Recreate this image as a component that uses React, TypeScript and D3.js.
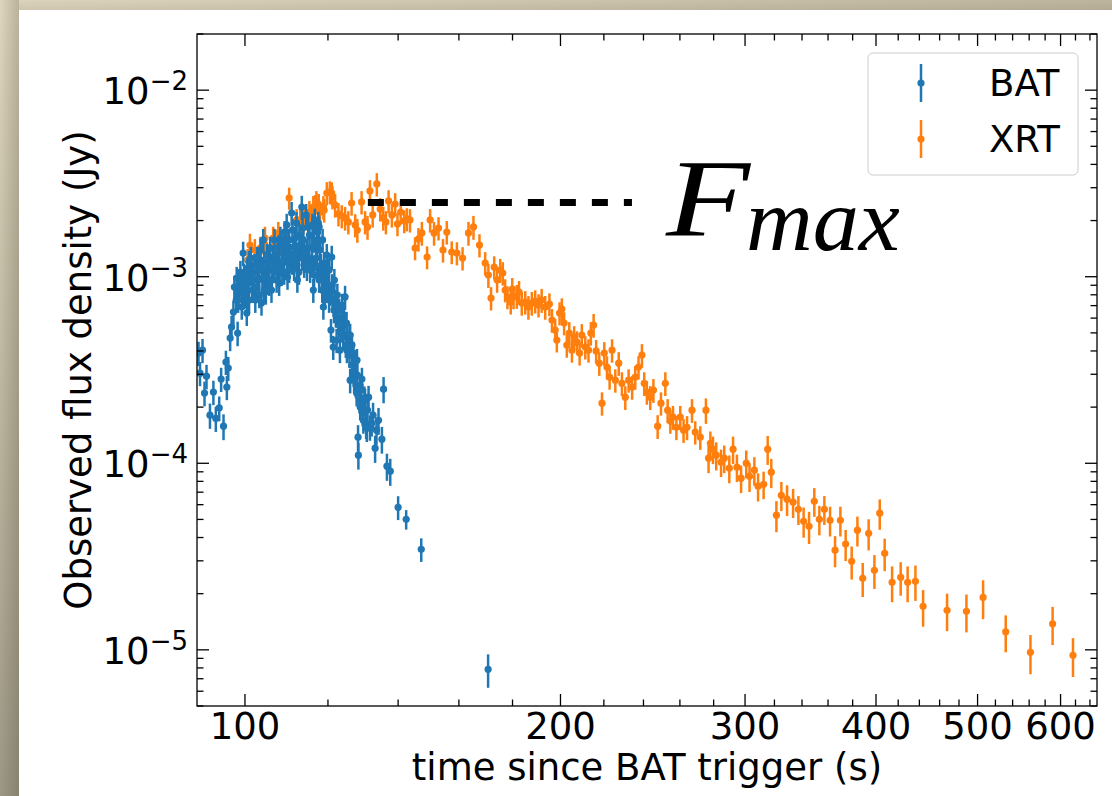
import React from 'react';
import * as d3 from 'd3';

// Flux values below are in mJy (multiplied by FLUX_UNIT to get Jy)
const FLUX_UNIT = 1e-3;

// [time since trigger (s), flux (mJy), 1-sigma error (mJy)]
const BAT_DATA: [number, number, number][] = [
  [90.3,0.39,0.058],[90.6,0.304,0.045],[91.1,0.404,0.06],[91.5,0.238,0.036],[91.9,0.293,0.044],[92.6,0.181,0.028],[93.3,0.241,0.036],[93.8,0.174,0.027],[94.5,0.198,0.03],[94.9,0.283,0.042],
  [95.4,0.158,0.025],[95.9,0.349,0.052],[96.1,0.256,0.038],[96.4,0.324,0.048],[96.8,0.469,0.07],[97.1,0.538,0.08],[97.5,0.647,0.095],[97.7,0.88,0.13],[98.1,0.75,0.11],[98.2,0.984,0.145],
  [98.4,0.499,0.075],[98.6,0.818,0.12],[98.8,0.902,0.13],[99.0,1.06,0.155],[99.3,0.688,0.1],[99.5,0.849,0.125],[99.6,1.34,0.2],[99.8,1.021,0.15],[100.0,0.96,0.14],[100.2,0.798,0.12],
  [100.4,0.639,0.095],[100.6,1.113,0.165],[100.7,0.924,0.135],[100.9,0.75,0.11],[101.1,1.086,0.16],[101.3,1.26,0.185],[101.6,0.849,0.125],[101.8,0.96,0.14],[102.1,1.155,0.17],[102.3,0.75,0.11],
  [102.6,0.88,0.13],[102.8,1.06,0.155],[103.0,1.184,0.175],[103.2,0.798,0.12],[103.5,1.391,0.205],[103.7,0.723,0.105],[103.9,0.984,0.145],[104.1,1.574,0.23],[104.3,1.199,0.175],[104.5,0.996,0.145],
  [104.7,0.828,0.12],[105.0,1.307,0.19],[105.3,1.113,0.165],[105.5,0.924,0.135],[105.7,1.426,0.21],[106.0,0.849,0.125],[106.2,1.086,0.16],[106.4,1.275,0.19],[106.7,1.574,0.23],[106.9,1.199,0.175],
  [107.2,0.96,0.14],[107.4,1.307,0.19],[107.6,1.443,0.21],[107.8,1.113,0.165],[108.1,1.613,0.24],[108.4,1.046,0.155],[108.6,1.391,0.2],[108.8,1.229,0.18],[109.1,1.737,0.25],[109.3,1.479,0.22],
  [109.6,1.894,0.28],[109.8,0.996,0.145],[110.0,1.184,0.175],[110.2,1.574,0.23],[110.5,1.307,0.19],[110.8,2.196,0.32],[111.0,1.78,0.26],[111.2,1.443,0.21],[111.4,1.113,0.165],[111.6,1.613,0.24],
  [111.9,1.391,0.2],[112.0,1.941,0.28],[112.2,0.96,0.14],[112.5,1.275,0.19],[112.7,1.674,0.245],[112.9,1.479,0.215],[113.3,2.365,0.35],[113.5,1.824,0.27],[113.7,1.574,0.23],[113.9,1.155,0.17],
  [114.1,1.229,0.18],[114.4,2.143,0.31],[114.6,1.391,0.2],[114.9,1.848,0.27],[115.2,1.674,0.245],[115.4,1.086,0.16],[115.8,1.443,0.21],[116.0,1.894,0.28],[116.2,0.849,0.125],[116.4,1.574,0.23],
  [116.6,2.015,0.3],[116.9,1.26,0.185],[117.1,1.127,0.165],[117.3,1.737,0.255],[117.5,1.941,0.285],[117.7,1.848,0.27],[117.9,1.391,0.2],[118.2,1.155,0.17],[118.4,0.996,0.145],[118.6,1.574,0.23],
  [118.8,0.688,0.1],[119.0,1.184,0.175],[119.2,0.779,0.115],[119.4,0.96,0.14],[119.7,1.307,0.19],[119.9,0.849,0.125],[120.1,0.88,0.13],[120.3,1.086,0.16],[120.6,0.818,0.12],[120.8,0.518,0.075],
  [121.0,1.275,0.19],[121.2,0.75,0.11],[121.4,0.42,0.062],[121.7,0.96,0.14],[121.9,0.74,0.11],[122.1,0.623,0.09],[122.3,0.4575,0.068],[122.5,0.798,0.12],[122.8,0.572,0.085],[123.0,0.663,0.1],
  [123.2,0.404,0.06],[123.5,0.518,0.075],[123.8,0.6,0.09],[124.1,0.475,0.07],[124.4,0.551,0.08],[124.6,0.779,0.115],[124.8,0.43,0.063],[125.0,0.565,0.083],[125.3,0.487,0.072],[125.5,0.441,0.065],
  [125.8,0.38,0.056],[126.0,0.279,0.042],[126.3,0.43,0.063],[126.5,0.336,0.05],[126.9,0.39,0.058],[127.1,0.308,0.046],[127.4,0.349,0.052],[127.6,0.262,0.039],[127.8,0.238,0.036],[128.0,0.297,0.044],
  [128.2,0.138,0.022],[128.3,0.1105,0.018],[128.6,0.218,0.033],[128.8,0.2,0.03],[129.1,0.247,0.037],[129.3,0.283,0.042],[129.5,0.1855,0.028],[129.7,0.17,0.026],[130.0,0.224,0.034],[130.2,0.218,0.033],
  [130.5,0.16,0.025],[130.7,0.154,0.024],[130.9,0.193,0.03],[131.2,0.226,0.034],[131.6,0.156,0.024],[132.1,0.164,0.025],[132.5,0.181,0.03],[133.1,0.1205,0.02],[133.5,0.1505,0.025],[134.1,0.17,0.028],
  [135.1,0.1346,0.022],[135.6,0.2497,0.04],[136.6,0.0965,0.016],[137.6,0.0907,0.015],[140.0,0.0581,0.0085],[142.5,0.0501,0.006],[147.3,0.0346,0.005],[170.6,0.00786,0.0016],
  [98.5,0.75,0.11],[99.1,0.937,0.14],[99.8,0.798,0.12],[100.4,0.902,0.13],[100.9,1.199,0.175],[101.6,1.021,0.15],[102.0,0.869,0.13],[102.7,1.26,0.185],[103.1,0.96,0.14],[103.8,1.113,0.165],
  [104.3,0.849,0.125],[105.0,0.984,0.145],[105.4,1.199,0.175],[106.1,0.96,0.14],[106.6,1.113,0.165],[107.3,1.155,0.17],[107.8,0.924,0.135],[108.5,1.199,0.175],[109.0,1.06,0.155],[109.7,1.307,0.19],
  [110.2,1.086,0.16],[110.9,1.199,0.175],[111.4,1.307,0.19],[112.1,1.155,0.17],[112.6,1.06,0.155],[113.4,1.26,0.185],[113.9,1.426,0.21],[114.6,1.113,0.165],[115.1,1.26,0.185],[115.9,1.199,0.175],
  [116.4,1.021,0.15],[117.2,1.479,0.22],[117.7,0.96,0.14],[118.5,0.849,0.125],[119.0,1.021,0.15],[119.8,1.113,0.165],[120.3,0.75,0.11],[121.1,0.902,0.13],[121.6,0.663,0.1],[122.4,0.705,0.105],
  [123.0,0.551,0.08],[123.8,0.705,0.105],[124.3,0.623,0.09],[125.1,0.404,0.06],[126.0,0.487,0.072],[126.5,0.43,0.063],[127.1,0.279,0.042],[127.9,0.357,0.053],[128.8,0.262,0.039],
];

const XRT_DATA: [number, number, number][] = [
  [100.6,1.229,0.18],[101.1,1.479,0.22],[102.2,1.391,0.2],[103.4,1.425,0.21],[104.1,1.536,0.22],[104.5,1.613,0.24],[104.9,1.34,0.2],[105.7,1.425,0.21],[106.4,1.613,0.24],[107.2,1.357,0.2],
  [107.6,1.716,0.25],[108.0,1.516,0.22],[108.8,1.574,0.23],[109.6,1.425,0.21],[110.2,2.643,0.36],[112.0,2.015,0.29],[112.9,2.015,0.29],[113.7,1.98,0.29],[114.1,2.065,0.3],[114.9,1.941,0.28],
  [115.2,2.223,0.32],[115.8,2.091,0.3],[116.2,2.365,0.34],[116.6,2.394,0.34],[117.0,2.516,0.36],[117.6,2.424,0.35],[117.9,2.223,0.32],[118.8,2.365,0.34],[119.0,2.279,0.33],[119.7,2.811,0.4],
  [120.5,2.847,0.4],[121.0,2.811,0.4],[121.2,2.676,0.38],[121.9,2.424,0.35],[122.8,2.17,0.31],[123.7,2.117,0.3],[124.6,2.065,0.3],[125.5,1.966,0.28],[126.4,2.484,0.36],[127.4,1.894,0.27],
  [128.0,1.78,0.26],[129.2,2.516,0.36],[130.2,1.966,0.28],[130.9,1.848,0.27],[131.6,2.882,0.41],[132.4,2.143,0.31],[133.6,3.142,0.45],[134.6,2.307,0.33],[135.5,2.065,0.3],[136.3,1.966,0.28],
  [137.1,2.547,0.36],[138.1,2.143,0.31],[139.1,2.454,0.35],[139.8,1.918,0.27],[140.8,2.223,0.32],[141.9,1.99,0.28],[142.7,2.04,0.29],[143.7,2.015,0.29],[145.3,1.425,0.2],[146.4,1.594,0.23],
  [147.5,1.716,0.25],[149.2,1.275,0.18],[150.2,2.015,0.29],[151.5,1.716,0.25],[153.0,1.824,0.26],[154.5,1.391,0.2],[155.8,1.737,0.25],[157.5,1.357,0.19],[159.3,1.34,0.19],[161.3,1.26,0.18],
  [163.4,1.716,0.25],[165.2,1.848,0.27],[167.4,1.479,0.21],[169.5,1.184,0.17],[170.7,1.021,0.15],[171.7,0.769,0.11],[172.9,1.127,0.16],[174.0,0.96,0.14],[175.2,1.086,0.16],[176.2,1.046,0.15],
  [177.1,0.849,0.12],[178.0,0.779,0.11],[179.3,0.732,0.105],[179.9,0.859,0.125],[180.4,0.779,0.11],[181.7,0.788,0.115],[182.6,0.828,0.12],[183.7,0.723,0.105],[185.1,0.732,0.105],[186.4,0.688,0.1],
  [187.8,0.723,0.105],[189.2,0.74,0.105],[190.6,0.705,0.1],[191.9,0.75,0.11],[193.4,0.688,0.1],[195.2,0.714,0.1],[196.3,0.586,0.085],[197.7,0.518,0.075],[198.4,0.4575,0.065],[199.6,0.639,0.09],
  [200.6,0.671,0.095],[201.6,0.565,0.08],[202.8,0.43,0.062],[203.9,0.499,0.072],[205.1,0.404,0.058],[206.1,0.475,0.068],[207.4,0.446,0.064],[208.6,0.39,0.056],[209.6,0.487,0.07],[211.2,0.42,0.06],
  [212.7,0.404,0.058],[213.8,0.499,0.072],[215.1,0.551,0.08],[216.3,0.4,0.058],[217.8,0.344,0.05],[219.1,0.21,0.03],[220.2,0.39,0.056],[221.5,0.328,0.047],[222.8,0.29,0.042],[224.0,0.404,0.058],
  [225.6,0.279,0.04],[227.3,0.344,0.05],[228.9,0.2685,0.039],[230.6,0.226,0.033],[232.3,0.279,0.04],[234.1,0.256,0.037],[235.7,0.29,0.042],[237.4,0.328,0.047],[239.2,0.38,0.055],[240.4,0.2685,0.039],
  [241.8,0.241,0.035],[243.6,0.226,0.033],[245.3,0.2467,0.036],[247.6,0.158,0.023],[249.4,0.21,0.03],[251.8,0.2685,0.039],[253.1,0.1927,0.028],[254.6,0.168,0.024],[256.1,0.177,0.026],[258.0,0.156,0.023],
  [260.2,0.177,0.026],[262.1,0.1505,0.022],[264.1,0.156,0.023],[267.0,0.1927,0.028],[268.9,0.147,0.021],[271.9,0.138,0.02],[275.3,0.1927,0.03],[276.9,0.1065,0.018],[278.0,0.128,0.02],[279.6,0.119,0.02],
  [281.6,0.1105,0.019],[284.6,0.1014,0.017],[286.6,0.1065,0.018],[289.8,0.0941,0.016],[292.2,0.119,0.02],[294.7,0.0953,0.016],[297.4,0.0832,0.014],[300.8,0.1001,0.017],[303.0,0.0852,0.015],[306.2,0.0918,0.016],
  [308.7,0.0754,0.013],[312.5,0.0772,0.013],[315.3,0.119,0.021],[317.8,0.0896,0.016],[321.4,0.0527,0.01],[324.9,0.0674,0.012],[329.0,0.0642,0.012],[333.4,0.0619,0.011],[337.3,0.0567,0.01],[341.2,0.0489,0.009],
  [345.3,0.0459,0.009],[349.3,0.0626,0.011],[353.2,0.0501,0.009],[357.1,0.0567,0.01],[361.6,0.0495,0.009],[365.6,0.0342,0.0065],[369.9,0.0495,0.009],[374.2,0.0369,0.007],[379.2,0.0298,0.006],[384.0,0.0438,0.008],
  [388.5,0.0242,0.005],[393.6,0.0421,0.008],[398.6,0.0267,0.0055],[403.3,0.054,0.01],[407.7,0.0329,0.0065],[414.4,0.023,0.005],[422.3,0.0245,0.005],[428.8,0.023,0.005],[436.2,0.0233,0.005],[443.6,0.0171,0.0038],
  [467.6,0.0163,0.0037],[487.9,0.0161,0.0037],[506.1,0.0191,0.0045],[531.9,0.0125,0.0028],[561.6,0.0097,0.0023],[589.6,0.0138,0.0032],[616.6,0.00935,0.0022],
];

const X_DOMAIN = [90, 650];
const Y_DOMAIN = [5e-6, 2e-2];
const X_TICK_LABELS = [100, 200, 300, 400, 500, 600];
const X_MINOR_TICKS = [120, 140, 160, 180, 220, 240, 260, 280, 320, 340, 360, 380, 420, 440, 460, 480, 520, 540, 560, 580, 620, 640];
const Y_TICK_EXPONENTS = [-5, -4, -3, -2];

const F_MAX = 2.5e-3; // Jy
const F_MAX_SPAN = [131, 234]; // s

const SERIES = [
  { name: 'BAT', color: '#1f77b4', data: BAT_DATA },
  { name: 'XRT', color: '#ff7f0e', data: XRT_DATA },
];

const W = 1112;
const H = 796;
const PLOT = { left: 197, right: 1097, top: 34, bottom: 706 };
const FONT = '"DejaVu Sans", sans-serif';
const MARKER_R = 3.6;
const BAR_W = 2.5;

export default function App() {
  const x = d3.scaleLog().domain(X_DOMAIN).range([PLOT.left, PLOT.right]);
  const y = d3.scaleLog().domain(Y_DOMAIN).range([PLOT.bottom, PLOT.top]);

  const yMinor = y.ticks().filter((v) => {
    const m = v / Math.pow(10, Math.floor(Math.log10(v) + 1e-9));
    return Math.abs(m - 1) > 1e-6;
  });

  const MAJ = 12;
  const MIN = 6.5;
  const tickStroke = { stroke: '#000', strokeWidth: 1.3 };

  const renderSeries = (s: typeof SERIES[number]) => (
    <g key={s.name}>
      {s.data.map(([t, f, e], i) => (
        <line
          key={'e' + i}
          x1={x(t)}
          x2={x(t)}
          y1={y((f + e) * FLUX_UNIT)}
          y2={y(Math.max(f - e, f * 0.05) * FLUX_UNIT)}
          stroke={s.color}
          strokeWidth={BAR_W}
        />
      ))}
      {s.data.map(([t, f], i) => (
        <circle key={'m' + i} cx={x(t)} cy={y(f * FLUX_UNIT)} r={MARKER_R} fill={s.color} />
      ))}
    </g>
  );

  const legendX = 868;
  const legendY = 53;
  const fx = x(F_MAX_SPAN[1]) + 34;
  const fy = y(F_MAX) + 33;

  return (
    <svg
      width={W}
      height={H}
      style={{ position: 'absolute', left: 0, top: 0, display: 'block' }}
      xmlns="http://www.w3.org/2000/svg"
    >
      <defs>
        <linearGradient id="bgV" x1="0" y1="0" x2="0" y2="1">
          <stop offset="0" stopColor="#ded6be" />
          <stop offset="0.45" stopColor="#c0b9a3" />
          <stop offset="1" stopColor="#9d9886" />
        </linearGradient>
        <linearGradient id="bgTop" x1="0" y1="0" x2="1" y2="0">
          <stop offset="0" stopColor="#dbd3bb" />
          <stop offset="1" stopColor="#bdb59d" />
        </linearGradient>
        <linearGradient id="shadowL" x1="0" y1="0" x2="1" y2="0">
          <stop offset="0" stopColor="#3a3420" stopOpacity="0" />
          <stop offset="1" stopColor="#3a3420" stopOpacity="0.22" />
        </linearGradient>
        <linearGradient id="shadowT" x1="0" y1="0" x2="0" y2="1">
          <stop offset="0" stopColor="#3a3420" stopOpacity="0" />
          <stop offset="1" stopColor="#3a3420" stopOpacity="0.08" />
        </linearGradient>
        <clipPath id="plotClip">
          <rect x={PLOT.left} y={PLOT.top} width={PLOT.right - PLOT.left} height={PLOT.bottom - PLOT.top} />
        </clipPath>
      </defs>

      {/* frame */}
      <rect x={0} y={0} width={W} height={H} fill="url(#bgV)" />
      <rect x={19} y={0} width={W - 19} height={10} fill="url(#bgTop)" />
      <rect x={0} y={0} width={19} height={H} fill="url(#shadowL)" />
      <rect x={19} y={0} width={W - 19} height={10} fill="url(#shadowT)" />
      <rect x={19} y={10} width={W - 19} height={H - 10} fill="#ffffff" />

      {/* data */}
      <g clipPath="url(#plotClip)">
        {renderSeries(SERIES[1])}
        {renderSeries(SERIES[0])}
        <line
          x1={x(F_MAX_SPAN[0])}
          x2={x(F_MAX_SPAN[1])}
          y1={y(F_MAX)}
          y2={y(F_MAX)}
          stroke="#000"
          strokeWidth={7}
          strokeDasharray="16 16"
        />
      </g>

      {/* F_max label */}
      <text
        transform={`translate(${fx}, ${fy}) scale(1.25, 1)`}
        fontFamily='"Liberation Serif", serif'
        fontStyle="italic"
        fontSize={110}
        fill="#000"
      >
        F
      </text>
      <text
        transform={`translate(${fx + 80}, ${fy + 15}) scale(1.05, 1)`}
        fontFamily='"Liberation Serif", serif'
        fontStyle="italic"
        fontSize={88}
        fill="#000"
      >
        max
      </text>

      {/* spines */}
      <rect
        x={PLOT.left}
        y={PLOT.top}
        width={PLOT.right - PLOT.left}
        height={PLOT.bottom - PLOT.top}
        fill="none"
        stroke="#000"
        strokeWidth={1.3}
      />

      {/* x ticks */}
      {X_TICK_LABELS.map((v) => (
        <g key={'xt' + v}>
          <line x1={x(v)} x2={x(v)} y1={PLOT.bottom} y2={PLOT.bottom - MAJ} {...tickStroke} />
          <line x1={x(v)} x2={x(v)} y1={PLOT.top} y2={PLOT.top + MAJ} {...tickStroke} />
          <text x={x(v)} y={739} textAnchor="middle" fontFamily={FONT} fontSize={37} fill="#000">
            {v}
          </text>
        </g>
      ))}
      {X_MINOR_TICKS.map((v) => (
        <g key={'xm' + v}>
          <line x1={x(v)} x2={x(v)} y1={PLOT.bottom} y2={PLOT.bottom - MIN} {...tickStroke} />
          <line x1={x(v)} x2={x(v)} y1={PLOT.top} y2={PLOT.top + MIN} {...tickStroke} />
        </g>
      ))}

      {/* y ticks */}
      {Y_TICK_EXPONENTS.map((e) => {
        const yy = y(Math.pow(10, e));
        return (
          <g key={'yt' + e}>
            <line x1={PLOT.left} x2={PLOT.left + MAJ} y1={yy} y2={yy} {...tickStroke} />
            <line x1={PLOT.right} x2={PLOT.right - MAJ} y1={yy} y2={yy} {...tickStroke} />
            <text x={188} y={yy + 14} textAnchor="end" fontFamily={FONT} fontSize={37} fill="#000">
              10
              <tspan dy={-14} fontSize={26}>
                {'\u2212' + Math.abs(e)}
              </tspan>
            </text>
          </g>
        );
      })}
      {yMinor.map((v, i) => (
        <g key={'ym' + i}>
          <line x1={PLOT.left} x2={PLOT.left + MIN} y1={y(v)} y2={y(v)} {...tickStroke} />
          <line x1={PLOT.right} x2={PLOT.right - MIN} y1={y(v)} y2={y(v)} {...tickStroke} />
        </g>
      ))}

      {/* axis labels */}
      <text
        x={(PLOT.left + PLOT.right) / 2}
        y={780}
        textAnchor="middle"
        fontFamily={FONT}
        fontSize={37}
        fill="#000"
      >
        time since BAT trigger (s)
      </text>
      <text
        transform={`translate(91, ${(PLOT.top + PLOT.bottom) / 2}) rotate(-90)`}
        textAnchor="middle"
        fontFamily={FONT}
        fontSize={37}
        fill="#000"
      >
        Observed flux density (Jy)
      </text>

      {/* legend */}
      <g>
        <rect
          x={legendX}
          y={legendY}
          width={210}
          height={122}
          rx={5}
          ry={5}
          fill="#fff"
          fillOpacity={0.8}
          stroke="#cccccc"
          strokeWidth={1}
        />
        {SERIES.map((s, i) => {
          const cy = legendY + 30 + i * 56;
          return (
            <g key={'lg' + s.name}>
              <line x1={legendX + 53} x2={legendX + 53} y1={cy - 19} y2={cy + 19} stroke={s.color} strokeWidth={BAR_W} />
              <circle cx={legendX + 53} cy={cy} r={MARKER_R} fill={s.color} />
              <text x={legendX + 121} y={cy + 13} fontFamily={FONT} fontSize={37} fill="#000">
                {s.name}
              </text>
            </g>
          );
        })}
      </g>
    </svg>
  );
}
